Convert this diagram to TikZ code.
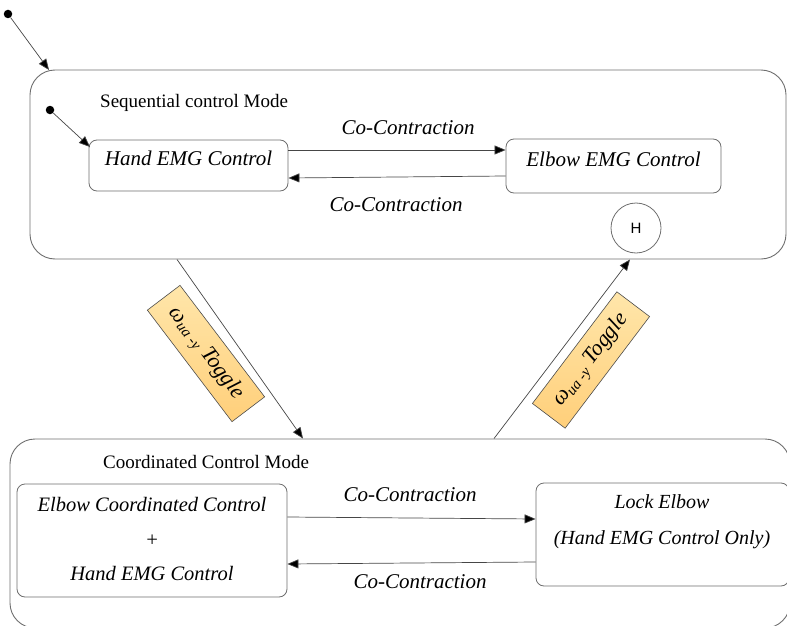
\documentclass[tikz,border=0pt]{standalone}
\usepackage{fontspec}
\setmainfont{Liberation Serif}
\newfontfamily\hfont{Liberation Sans}
\usetikzlibrary{arrows.meta}

\definecolor{edgegray}{RGB}{70,70,70}
\definecolor{framegray}{RGB}{110,110,110}
\definecolor{togglelight}{RGB}{255,230,170}
\definecolor{toggledark}{RGB}{255,207,122}

\begin{document}
\begin{tikzpicture}[x=1pt,y=-1pt,
  modebox/.style={draw=framegray, line width=0.9pt, rounded corners=25pt},
  statebox/.style={draw=framegray, line width=0.8pt, rounded corners=8pt, fill=white},
  itlbl/.style={font=\fontsize{21}{24}\selectfont\itshape},
  modelbl/.style={font=\fontsize{19}{21}\selectfont, anchor=west, inner sep=0pt},
  trans/.style={-{Triangle[length=11pt,width=9pt,fill=black]}, draw=edgegray, line width=0.7pt},
  startdot/.style={circle, fill=black, inner sep=0pt, minimum size=8.5pt},
  togglebox/.style={draw=black!70, line width=0.6pt, top color=togglelight, bottom color=toggledark,
    minimum width=140pt, minimum height=41pt, inner sep=0pt,
    font=\fontsize{22}{24}\selectfont\itshape},
  histnode/.style={circle, draw=framegray, line width=0.8pt, minimum size=50pt, inner sep=0pt,
    font=\hfont\fontsize{15}{17}\selectfont},
  midtext/.style={text height=9pt, text depth=9pt}
]
\useasboundingbox (0,0) rectangle (787,626);
\clip (0,0) rectangle (787,626);

% outer composite states
\node[modebox, minimum width=756pt, minimum height=189pt] (seq) at (408,164.5) {};
\node[modebox, minimum width=780pt, minimum height=189pt] (crd) at (400,533.5) {};

\node[modelbl] (seqtitle) at (100,103) {Sequential control Mode};
\node[modelbl] (crdtitle) at (103,462) {Coordinated Control Mode};

% initial pseudo-states
\node[startdot] (init) at (8,14) {};
\coordinate (seqentry) at (49,70);
\draw[trans] (init) -- (seqentry);

\node[startdot] (initin) at (50,110) {};

% sequential sub-states
\node[statebox, itlbl, midtext, minimum width=199pt, minimum height=51pt] (hand) at (188.5,165.5) {Hand EMG Control};
\node[statebox, itlbl, midtext, minimum width=215pt, minimum height=54pt] (elbow) at (613.5,166) {Elbow EMG Control};
\coordinate (handentry) at (90,147);
\draw[trans] (initin) -- (handentry);

\draw[trans] ([yshift=15.5pt]hand.east) -- ([yshift=16pt]elbow.west);
\draw[trans] ([yshift=-10pt]elbow.west) -- ([yshift=-12.5pt]hand.east);
\node[itlbl] (cc1) at (408,128) {Co-Contraction};
\node[itlbl] (cc2) at (396,205) {Co-Contraction};

% shallow history
\node[histnode] (hist) at (636,228) {H};

% coordinated sub-states
\node[statebox, minimum width=270pt, minimum height=113pt] (coord) at (152,540.5) {};
\node[align=center, font=\fontsize{20.5}{34.5}\selectfont\itshape] (coordtxt) at (152,539) {Elbow Coordinated Control\\+\\Hand EMG Control};
\node[statebox, minimum width=253pt, minimum height=103pt] (lock) at (662.5,534.5) {};
\node[align=center, font=\fontsize{20}{36}\selectfont\itshape] (locktxt) at (662,522) {Lock Elbow\\(Hand EMG Control Only)};

\draw[trans] ([yshift=23.5pt]coord.east) -- ([yshift=15.5pt]lock.west);
\draw[trans] ([yshift=-27.5pt]lock.west) -- ([yshift=-23.5pt]coord.east);
\node[itlbl] (cc3) at (410,495) {Co-Contraction};
\node[itlbl] (cc4) at (420,582) {Co-Contraction};

% mode toggles
\draw[trans] (177,0 |- seq.south) -- (303,0 |- crd.north);
\draw[trans] (494,0 |- crd.north) -- (630,0 |- seq.south);
\node[togglebox, rotate=-52.8] (tog1) at (206,353.5)
  {ω\raisebox{-3pt}{\fontsize{15}{16}\selectfont ua -y}\ Toggle};
\node[togglebox, rotate=52.9] (tog2) at (591,360)
  {ω\raisebox{-3pt}{\fontsize{15}{16}\selectfont ua -y}\ Toggle};
\end{tikzpicture}
\end{document}
